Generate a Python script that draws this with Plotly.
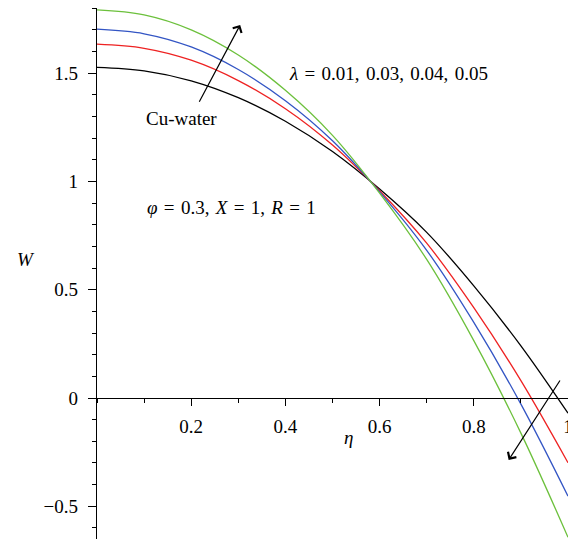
import plotly.graph_objects as go

# eta values and W profiles (one list per lambda)
eta = [0.0, 0.1, 0.2, 0.3, 0.4, 0.5, 0.6, 0.7, 0.8, 0.9, 1.0]
w_l001 = [1.527, 1.511, 1.465, 1.387, 1.278, 1.138, 0.965, 0.765, 0.518, 0.241, -0.070]
w_l003 = [1.634, 1.615, 1.560, 1.466, 1.336, 1.168, 0.957, 0.715, 0.417, 0.080, -0.299]
w_l004 = [1.703, 1.682, 1.621, 1.517, 1.373, 1.188, 0.952, 0.682, 0.349, -0.028, -0.453]
w_l005 = [1.792, 1.769, 1.700, 1.584, 1.421, 1.213, 0.946, 0.640, 0.265, -0.162, -0.643]

series = [
    (w_l001, '#000000'),
    (w_l003, '#ee2222'),
    (w_l004, '#3355c4'),
    (w_l005, '#6cc03c'),
]

x_range = [0, 1]
y_range = [-0.651, 1.801]
y_major = [-0.5, 0, 0.5, 1, 1.5]
y_text = ['\u22120.5', '0', '0.5', '1', '1.5']
x_major = [0.2, 0.4, 0.6, 0.8, 1]
x_text = ['0.2', '0.4', '0.6', '0.8', '1']

FONT = 'Liberation Serif'
FS = 19
SP = '\u2004'  # slightly wider space, like math spacing

fig = go.Figure()
for w, col in series:
    fig.add_trace(go.Scatter(
        x=eta, y=w, mode='lines',
        line=dict(color=col, width=1.3, shape='spline', smoothing=1.0),
        showlegend=False, hoverinfo='skip', cliponaxis=False
    ))

# x axis sits on W = 0
x_pos = (0 - y_range[0]) / (y_range[1] - y_range[0])

# page body adds 8px around the figure
fig.update_layout(
    width=568, height=531,
    margin=dict(l=89, r=8, t=0, b=0),
    plot_bgcolor='white', paper_bgcolor='white',
    font=dict(family=FONT, size=FS, color='black'),
    xaxis=dict(
        range=x_range, showgrid=False, zeroline=False, automargin=False,
        showline=True, linecolor='black', linewidth=1.3,
        anchor='free', position=x_pos,
        tickmode='array', tickvals=x_major, ticktext=x_text,
        ticks='outside', ticklen=7, tickwidth=1.2, tickcolor='black',
        tickfont=dict(family=FONT, size=FS), ticklabelstandoff=4,
        minor=dict(ticks='outside', ticklen=4, tickwidth=1.2, tickcolor='black',
                   tick0=0, dtick=0.1),
    ),
    yaxis=dict(
        range=y_range, showgrid=False, zeroline=False, automargin=False,
        showline=True, linecolor='black', linewidth=1.3,
        tickmode='array', tickvals=y_major, ticktext=y_text,
        ticks='outside', ticklen=8, tickwidth=1.2, tickcolor='black',
        tickfont=dict(family=FONT, size=FS), ticklabelstandoff=6,
        minor=dict(ticks='outside', ticklen=4, tickwidth=1.2, tickcolor='black',
                   tick0=0, dtick=0.1),
    ),
)

fig.add_annotation(x=0.403, y=1.50, xanchor='left', yanchor='middle', showarrow=False,
                   text=f'<i>\u03bb</i>{SP}={SP}0.01,{SP}0.03,{SP}0.04,{SP}0.05')
fig.add_annotation(x=0.100, y=1.29, xanchor='left', yanchor='middle', showarrow=False,
                   text='Cu-water')
fig.add_annotation(x=0.1025, y=0.878, xanchor='left', yanchor='middle', showarrow=False,
                   text=f'<i>\u03c6</i>{SP}={SP}0.3,{SP}<i>X</i>{SP}={SP}1,{SP}<i>R</i>{SP}={SP}1')
fig.add_annotation(x=-0.15, y=0.64, xref='paper', xanchor='center', yanchor='middle',
                   showarrow=False, text='<i>W</i>')
fig.add_annotation(x=0.533, y=-0.18, xanchor='center', yanchor='middle', showarrow=False,
                   text='<i>\u03b7</i>')

# arrows
for tail, head in [((0.2155, 1.361), (0.304, 1.723)), ((0.985, 0.088), (0.874, -0.286))]:
    fig.add_annotation(x=head[0], y=head[1], ax=tail[0], ay=tail[1],
                       xref='x', yref='y', axref='x', ayref='y',
                       showarrow=True, arrowhead=4, arrowsize=1.6, arrowwidth=1.2,
                       arrowcolor='black', text='')

fig.write_html("out.html")
